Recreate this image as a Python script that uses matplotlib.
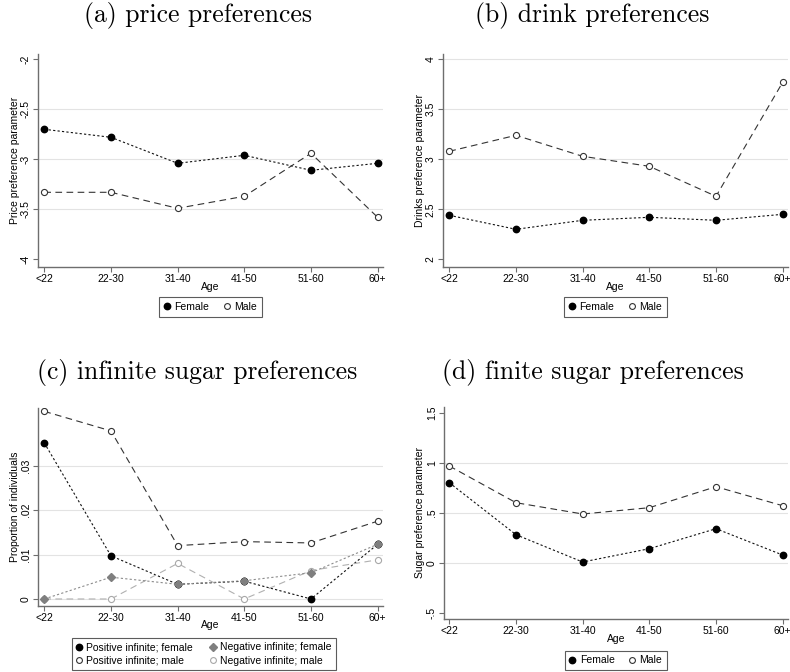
import numpy as np
import matplotlib
matplotlib.use("Agg")
import matplotlib.pyplot as plt
from matplotlib.lines import Line2D

plt.rcParams['font.family'] = ['Liberation Sans', 'DejaVu Sans']

ages = ['<22', '22-30', '31-40', '41-50', '51-60', '60+']

price_female = [-2.70, -2.78, -3.04, -2.96, -3.11, -3.04]
price_male = [-3.33, -3.33, -3.49, -3.37, -2.94, -3.58]

drink_female = [2.44, 2.30, 2.39, 2.42, 2.39, 2.45]
drink_male = [3.08, 3.24, 3.03, 2.93, 2.63, 3.77]

pos_inf_female = [0.0351, 0.0097, 0.0033, 0.0040, 0.0, 0.0123]
pos_inf_male = [0.0422, 0.0378, 0.0120, 0.0129, 0.0126, 0.0175]
neg_inf_female = [0.0, 0.0049, 0.0033, 0.0041, 0.0059, 0.0123]
neg_inf_male = [0.0, 0.0, 0.0080, 0.0, 0.0064, 0.0088]

sugar_female = [0.80, 0.28, 0.007, 0.14, 0.34, 0.077]
sugar_male = [0.967, 0.60, 0.487, 0.55, 0.76, 0.57]

W, H = 790, 672
fig = plt.figure(figsize=(W / 100, H / 100), dpi=100)

DOT = (0, (2, 2))
DASH = (0, (6, 4))
AXCOL = '#6e6e6e'
GRIDCOL = '#e3e3e3'


def make_axes(left, right, top, bottom):
    return fig.add_axes([left / W, 1 - bottom / H, (right - left) / W, (bottom - top) / H])


def style(ax, xlim, ylim, yticks, yticklabels, grid, ylabel):
    x = np.arange(len(ages))
    ax.set_xlim(*xlim)
    ax.set_ylim(*ylim)
    ax.set_xticks(x)
    ax.set_xticklabels(ages, fontsize=7.5)
    ax.set_yticks(yticks)
    ax.set_yticklabels(yticklabels, fontsize=7.5, rotation=90, va='center')
    for s in ['top', 'right']:
        ax.spines[s].set_visible(False)
    for s in ['left', 'bottom']:
        ax.spines[s].set_color(AXCOL)
        ax.spines[s].set_linewidth(1.0)
    ax.tick_params(length=3.5, width=0.8, color=AXCOL, pad=1.5)
    for g in grid:
        ax.axhline(g, color=GRIDCOL, lw=0.8, zorder=0)
    ax.text(0.5, -0.095, 'Age', transform=ax.transAxes, ha='center', va='center', fontsize=7.5)
    ax.text(ylabel[1], 0.5, ylabel[0], transform=ax.transAxes, rotation=90,
            ha='center', va='center', fontsize=7.5)


def two_series(ax, female, male):
    x = np.arange(len(ages))
    ax.plot(x, female, linestyle=DOT, color='#111111', lw=0.8, marker='o', ms=4.6,
            mfc='black', mec='black', zorder=3)
    ax.plot(x, male, linestyle=DASH, color='#333333', lw=0.8, marker='o', ms=4.4,
            mfc='white', mec='#333333', mew=0.8, zorder=3)


def fm_legend(ax, xy):
    handles = [Line2D([], [], ls='none', marker='o', ms=4.6, mfc='black', mec='black'),
               Line2D([], [], ls='none', marker='o', ms=4.2, mfc='white', mec='#333333', mew=0.8)]
    leg = ax.legend(handles, ['Female', 'Male'], loc='center', bbox_to_anchor=xy, ncol=2,
                    fontsize=7.5, frameon=True, fancybox=False, handlelength=0.6,
                    handletextpad=0.4, columnspacing=1.4, borderpad=0.45)
    leg.get_frame().set_edgecolor('#333333')
    leg.get_frame().set_linewidth(0.8)


# (a) price preferences
ax = make_axes(37.7, 383.3, 54, 266.7)
two_series(ax, price_female, price_male)
style(ax, (-0.099, 5.085), (-4.074, -1.947), [-4, -3.5, -3, -2.5, -2],
      ['-4', '-3.5', '-3', '-2.5', '-2'], [-3.5, -3, -2.5],
      ('Price preference parameter', -0.066))
fm_legend(ax, (0.5, -0.19))

# (b) drink preferences
ax = make_axes(442.7, 788, 54, 266.7)
two_series(ax, drink_female, drink_male)
style(ax, (-0.099, 5.08), (1.926, 4.053), [2, 2.5, 3, 3.5, 4],
      ['2', '2.5', '3', '3.5', '4'], [2.5, 3, 3.5, 4],
      ('Drinks preference parameter', -0.066))
fm_legend(ax, (0.501, -0.19))

# (c) infinite sugar preferences
ax = make_axes(37.7, 383.3, 407.7, 606)
x = np.arange(len(ages))
ax.plot(x, neg_inf_male, linestyle=DASH, color='#b0b0b0', lw=0.8, marker='o', ms=4.4,
        mfc='white', mec='#a8a8a8', mew=0.8, zorder=2)
ax.plot(x, neg_inf_female, linestyle=DOT, color='#8c8c8c', lw=0.8, marker='D', ms=4.2,
        mfc='#7f7f7f', mec='#7f7f7f', zorder=2)
ax.plot(x, pos_inf_female, linestyle=DOT, color='#111111', lw=0.8, marker='o', ms=4.6,
        mfc='black', mec='black', zorder=1)
ax.plot(x, pos_inf_male, linestyle=DASH, color='#333333', lw=0.8, marker='o', ms=4.4,
        mfc='white', mec='#333333', mew=0.8, zorder=3)
style(ax, (-0.099, 5.085), (-0.00158, 0.04302), [0, 0.01, 0.02, 0.03],
      ['0', '.01', '.02', '.03'], [0, 0.01, 0.02, 0.03],
      ('Proportion of individuals', -0.066))
handles = [Line2D([], [], ls='none', marker='o', ms=4.6, mfc='black', mec='black'),
           Line2D([], [], ls='none', marker='o', ms=4.2, mfc='white', mec='#333333', mew=0.8),
           Line2D([], [], ls='none', marker='D', ms=4.0, mfc='#7f7f7f', mec='#7f7f7f'),
           Line2D([], [], ls='none', marker='o', ms=4.2, mfc='white', mec='#a8a8a8', mew=0.8)]
labels = ['Positive infinite; female', 'Positive infinite; male',
          'Negative infinite; female', 'Negative infinite; male']
leg = ax.legend(handles, labels, loc='center', bbox_to_anchor=(0.48, -0.242), ncol=2,
                fontsize=7.5, frameon=True, fancybox=False, handlelength=0.6,
                handletextpad=0.4, columnspacing=1.6, borderpad=0.4, labelspacing=0.35)
leg.get_frame().set_edgecolor('#333333')
leg.get_frame().set_linewidth(0.8)

# (d) finite sugar preferences
ax = make_axes(443.7, 788, 406.7, 619)
two_series(ax, sugar_female, sugar_male)
style(ax, (-0.084, 5.08), (-0.563, 1.56), [-0.5, 0, 0.5, 1, 1.5],
      ['-.5', '0', '.5', '1', '1.5'], [0, 0.5, 1],
      ('Sugar preference parameter', -0.068))
fm_legend(ax, (0.5, -0.195))

titles = ['(a) price preferences', '(b) drink preferences',
          '(c) infinite sugar preferences', '(d) finite sugar preferences']
tpos = [(0.25, 1 - 22 / H), (0.75, 1 - 22 / H), (0.25, 1 - 379 / H), (0.75, 1 - 379 / H)]
for t, (tx, ty) in zip(titles, tpos):
    fig.text(tx, ty, t, family='cmr10', fontsize=18.5, ha='center', va='baseline')

fig.savefig('out.png', dpi=100)
